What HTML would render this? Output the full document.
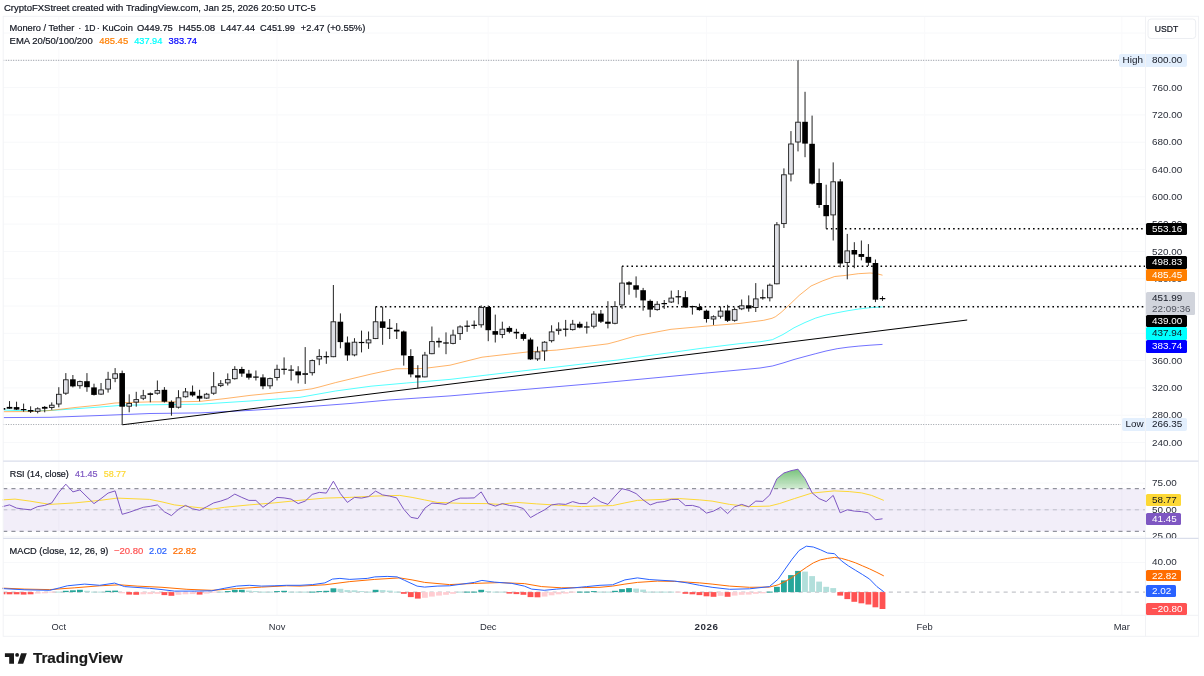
<!DOCTYPE html><html><head><meta charset="utf-8"><title>XMRUSDT chart</title><style>
html,body{margin:0;padding:0;background:#fff}
body{width:1204px;height:676px;position:relative;overflow:hidden;font-family:"Liberation Sans",sans-serif;color:#131722}
svg{position:absolute;left:0;top:0}
.t{position:absolute;white-space:pre;line-height:12px;height:12px;-webkit-text-stroke:0.2px currentColor}
.ax{position:absolute;left:1152px;font-size:9.9px;line-height:12px;height:12px;color:#2a2e39;white-space:pre}
.lb{position:absolute;left:1146px;font-size:9.9px;line-height:12.4px;height:12.4px;padding-left:6px;box-sizing:border-box;border-radius:1.5px;white-space:pre;color:#fff}

</style></head><body>
<svg width="1204" height="676" viewBox="0 0 1204 676">
<line x1="3.2" x2="1145.5" y1="442.5" y2="442.5" stroke="#f7f8fa" stroke-width="1"/>
<line x1="3.2" x2="1145.5" y1="415.2" y2="415.2" stroke="#f7f8fa" stroke-width="1"/>
<line x1="3.2" x2="1145.5" y1="387.9" y2="387.9" stroke="#f7f8fa" stroke-width="1"/>
<line x1="3.2" x2="1145.5" y1="360.6" y2="360.6" stroke="#f7f8fa" stroke-width="1"/>
<line x1="3.2" x2="1145.5" y1="333.3" y2="333.3" stroke="#f7f8fa" stroke-width="1"/>
<line x1="3.2" x2="1145.5" y1="306.0" y2="306.0" stroke="#f7f8fa" stroke-width="1"/>
<line x1="3.2" x2="1145.5" y1="278.7" y2="278.7" stroke="#f7f8fa" stroke-width="1"/>
<line x1="3.2" x2="1145.5" y1="251.4" y2="251.4" stroke="#f7f8fa" stroke-width="1"/>
<line x1="3.2" x2="1145.5" y1="224.1" y2="224.1" stroke="#f7f8fa" stroke-width="1"/>
<line x1="3.2" x2="1145.5" y1="196.8" y2="196.8" stroke="#f7f8fa" stroke-width="1"/>
<line x1="3.2" x2="1145.5" y1="169.5" y2="169.5" stroke="#f7f8fa" stroke-width="1"/>
<line x1="3.2" x2="1145.5" y1="142.2" y2="142.2" stroke="#f7f8fa" stroke-width="1"/>
<line x1="3.2" x2="1145.5" y1="114.9" y2="114.9" stroke="#f7f8fa" stroke-width="1"/>
<line x1="3.2" x2="1145.5" y1="87.6" y2="87.6" stroke="#f7f8fa" stroke-width="1"/>
<line x1="3.2" x2="1145.5" y1="60.3" y2="60.3" stroke="#f7f8fa" stroke-width="1"/>
<line x1="3.2" x2="1145.5" y1="33.0" y2="33.0" stroke="#f7f8fa" stroke-width="1"/>
<line x1="3.2" x2="1145.5" y1="483.0" y2="483.0" stroke="#f7f8fa" stroke-width="1"/>
<line x1="3.2" x2="1145.5" y1="509.8" y2="509.8" stroke="#f7f8fa" stroke-width="1"/>
<line x1="3.2" x2="1145.5" y1="536.3" y2="536.3" stroke="#f7f8fa" stroke-width="1"/>
<line x1="3.2" x2="1145.5" y1="562.4" y2="562.4" stroke="#f7f8fa" stroke-width="1"/>
<line x1="58.8" x2="58.8" y1="16.3" y2="615.3" stroke="#f9f9fb" stroke-width="1"/>
<line x1="277.0" x2="277.0" y1="16.3" y2="615.3" stroke="#f9f9fb" stroke-width="1"/>
<line x1="488.2" x2="488.2" y1="16.3" y2="615.3" stroke="#f9f9fb" stroke-width="1"/>
<line x1="706.5" x2="706.5" y1="16.3" y2="615.3" stroke="#f9f9fb" stroke-width="1"/>
<line x1="924.7" x2="924.7" y1="16.3" y2="615.3" stroke="#f9f9fb" stroke-width="1"/>
<line x1="1121.8" x2="1121.8" y1="16.3" y2="615.3" stroke="#f9f9fb" stroke-width="1"/>
<rect x="3.2" y="488.7" width="1142.3" height="42.6" fill="#7e57c2" fill-opacity="0.1"/>
<line x1="3.2" x2="1145.5" y1="488.7" y2="488.7" stroke="#787b86" stroke-width="1" stroke-dasharray="4.1 4.1"/>
<line x1="3.2" x2="1145.5" y1="509.8" y2="509.8" stroke="#787b86" stroke-opacity="0.4" stroke-width="1" stroke-dasharray="4.1 4.1"/>
<line x1="3.2" x2="1145.5" y1="531.3" y2="531.3" stroke="#787b86" stroke-width="1" stroke-dasharray="4.1 4.1"/>
<defs><linearGradient id="ob" x1="0" y1="0" x2="0" y2="1"><stop offset="0" stop-color="#4caf50" stop-opacity="0.75"/><stop offset="1" stop-color="#4caf50" stop-opacity="0"/></linearGradient><clipPath id="obc"><rect x="0" y="462" width="1204" height="26.7"/></clipPath><clipPath id="main"><rect x="3.2" y="16.3" width="1142.3" height="445"/></clipPath></defs>
<path d="M769.8 494.9 L776.9 478.7 L783.9 473.0 L791.0 470.7 L798.0 469.2 L805.0 478.7 L812.1 492.9 L819.1 498.6 L819.1 488.7 L769.8 488.7 Z" fill="url(#ob)" clip-path="url(#obc)"/>
<path d="M2.5 499.9 L15.0 499.1 L29.9 501.1 L49.8 504.4 L74.8 502.9 L99.7 500.4 L117.1 498.1 L149.5 499.4 L162.0 501.9 L174.4 504.9 L189.4 506.6 L211.8 509.1 L224.3 507.3 L249.2 504.9 L274.1 502.9 L299.0 500.4 L324.9 498.1 L349.8 497.4 L374.8 496.1 L399.7 495.4 L412.1 497.4 L424.6 499.9 L437.1 502.4 L462.0 503.4 L486.9 503.6 L499.4 504.4 L516.8 502.4 L536.7 503.9 L561.6 505.4 L581.6 506.6 L600.0 505.9 L612.5 505.6 L624.9 502.9 L637.4 500.4 L662.3 499.4 L679.7 498.6 L699.7 499.9 L712.1 501.1 L729.6 504.4 L749.5 506.6 L769.4 506.1 L779.4 503.6 L794.4 498.6 L811.8 493.1 L834.2 490.9 L849.2 491.6 L861.6 492.9 L871.6 495.4 L883.8 500.4" fill="none" stroke="#fdd835" stroke-width="1" stroke-linejoin="round"/>
<path d="M2.5 506.6 L9.5 504.9 L16.6 508.1 L23.6 509.1 L30.6 509.8 L37.7 506.6 L44.7 505.4 L51.8 502.9 L58.8 492.4 L65.8 484.2 L72.9 491.9 L79.9 489.9 L87.0 496.9 L94.0 503.6 L101.0 498.6 L108.1 493.1 L115.1 490.9 L122.2 514.3 L129.2 512.3 L136.2 509.8 L143.3 507.3 L150.3 506.3 L157.4 504.9 L164.4 511.8 L171.4 515.6 L178.5 509.3 L185.5 505.4 L192.6 508.8 L199.6 510.3 L206.6 506.8 L213.7 502.9 L220.7 501.1 L227.8 498.6 L234.8 494.1 L241.8 497.4 L248.9 500.4 L255.9 500.4 L263.0 507.3 L270.0 502.4 L277.0 497.4 L284.1 497.9 L291.1 499.1 L298.2 503.6 L305.2 501.1 L312.2 494.4 L319.3 492.4 L326.3 493.1 L333.4 481.2 L340.4 493.6 L347.4 502.4 L354.5 497.4 L361.5 498.1 L368.6 496.6 L375.6 491.1 L382.6 494.9 L389.7 496.1 L396.7 497.9 L403.8 509.3 L410.8 517.3 L417.8 518.6 L424.9 508.1 L431.9 503.1 L439.0 503.6 L446.0 504.4 L453.0 500.6 L460.1 498.1 L467.1 498.1 L474.2 497.9 L481.2 491.9 L488.2 503.6 L495.3 506.1 L502.3 503.6 L509.4 505.4 L516.4 506.3 L523.4 508.6 L530.5 517.6 L537.5 513.6 L544.6 509.8 L551.6 504.9 L558.6 503.9 L565.7 504.4 L572.7 501.6 L579.8 503.6 L586.8 503.6 L593.8 497.4 L600.9 501.9 L607.9 504.4 L615.0 496.1 L622.0 488.7 L629.0 490.4 L636.1 493.6 L643.1 499.9 L650.2 504.9 L657.2 502.4 L664.2 501.6 L671.3 499.4 L678.3 499.4 L685.4 505.6 L692.4 505.4 L699.4 507.3 L706.5 513.1 L713.5 511.1 L720.6 507.3 L727.6 513.6 L734.6 506.8 L741.7 504.4 L748.7 506.8 L755.8 501.1 L762.8 501.4 L769.8 494.9 L776.9 478.7 L783.9 473.0 L791.0 470.7 L798.0 469.2 L805.0 478.7 L812.1 492.9 L819.1 498.6 L826.2 501.6 L833.2 495.4 L840.2 512.8 L847.3 509.8 L854.3 511.1 L861.4 511.6 L868.4 512.8 L875.4 519.8 L882.5 518.8" fill="none" stroke="#7e57c2" stroke-width="1" stroke-linejoin="round"/>
<line x1="3.2" x2="1145.5" y1="592.1" y2="592.1" stroke="#787b86" stroke-opacity="0.55" stroke-width="1" stroke-dasharray="4.1 4.1"/>
<rect x="3.2" y="592.1" width="2.2" height="2.2" fill="#ff5252"/>
<rect x="6.6" y="592.1" width="5.8" height="2.2" fill="#ff5252"/>
<rect x="13.7" y="592.1" width="5.8" height="2.2" fill="#ff5252"/>
<rect x="20.7" y="592.1" width="5.8" height="2.5" fill="#ff5252"/>
<rect x="27.7" y="592.1" width="5.8" height="2.2" fill="#ff5252"/>
<rect x="34.8" y="592.1" width="5.8" height="1.5" fill="#ffcdd2"/>
<rect x="41.8" y="592.1" width="5.8" height="1.2" fill="#ffcdd2"/>
<rect x="48.9" y="591.6" width="5.8" height="1.0" fill="#ffcdd2"/>
<rect x="55.9" y="591.6" width="5.8" height="1.0" fill="#b2dfdb"/>
<rect x="62.9" y="590.8" width="5.8" height="1.3" fill="#26a69a"/>
<rect x="70.0" y="590.3" width="5.8" height="1.8" fill="#26a69a"/>
<rect x="77.0" y="589.8" width="5.8" height="2.3" fill="#26a69a"/>
<rect x="84.1" y="590.8" width="5.8" height="1.3" fill="#b2dfdb"/>
<rect x="91.1" y="591.6" width="5.8" height="1.0" fill="#b2dfdb"/>
<rect x="98.1" y="591.6" width="5.8" height="1.0" fill="#b2dfdb"/>
<rect x="105.2" y="590.8" width="5.8" height="1.3" fill="#26a69a"/>
<rect x="112.2" y="590.6" width="5.8" height="1.5" fill="#26a69a"/>
<rect x="119.3" y="592.1" width="5.8" height="1.2" fill="#ffcdd2"/>
<rect x="126.3" y="592.1" width="5.8" height="2.5" fill="#ff5252"/>
<rect x="133.3" y="592.1" width="5.8" height="2.7" fill="#ff5252"/>
<rect x="140.4" y="592.1" width="5.8" height="2.2" fill="#ffcdd2"/>
<rect x="147.4" y="592.1" width="5.8" height="2.0" fill="#ffcdd2"/>
<rect x="154.5" y="592.1" width="5.8" height="1.7" fill="#ffcdd2"/>
<rect x="161.5" y="592.1" width="5.8" height="3.0" fill="#ff5252"/>
<rect x="168.5" y="592.1" width="5.8" height="3.7" fill="#ff5252"/>
<rect x="175.6" y="592.1" width="5.8" height="2.7" fill="#ffcdd2"/>
<rect x="182.6" y="592.1" width="5.8" height="2.2" fill="#ffcdd2"/>
<rect x="189.7" y="592.1" width="5.8" height="2.0" fill="#ffcdd2"/>
<rect x="196.7" y="592.1" width="5.8" height="2.5" fill="#ff5252"/>
<rect x="203.7" y="592.1" width="5.8" height="1.5" fill="#ffcdd2"/>
<rect x="210.8" y="591.6" width="5.8" height="1.0" fill="#ffcdd2"/>
<rect x="217.8" y="591.6" width="5.8" height="1.0" fill="#b2dfdb"/>
<rect x="224.9" y="591.1" width="5.8" height="1.0" fill="#26a69a"/>
<rect x="231.9" y="589.8" width="5.8" height="2.3" fill="#26a69a"/>
<rect x="238.9" y="589.8" width="5.8" height="2.3" fill="#26a69a"/>
<rect x="246.0" y="590.6" width="5.8" height="1.5" fill="#b2dfdb"/>
<rect x="253.0" y="591.1" width="5.8" height="1.0" fill="#b2dfdb"/>
<rect x="260.1" y="591.6" width="5.8" height="1.0" fill="#b2dfdb"/>
<rect x="267.1" y="591.6" width="5.8" height="1.0" fill="#b2dfdb"/>
<rect x="274.1" y="591.1" width="5.8" height="1.0" fill="#26a69a"/>
<rect x="281.2" y="590.8" width="5.8" height="1.3" fill="#26a69a"/>
<rect x="288.2" y="591.6" width="5.8" height="1.0" fill="#b2dfdb"/>
<rect x="295.3" y="591.6" width="5.8" height="1.0" fill="#b2dfdb"/>
<rect x="302.3" y="591.6" width="5.8" height="1.0" fill="#b2dfdb"/>
<rect x="309.3" y="591.6" width="5.8" height="1.0" fill="#26a69a"/>
<rect x="316.4" y="591.1" width="5.8" height="1.0" fill="#26a69a"/>
<rect x="323.4" y="590.8" width="5.8" height="1.3" fill="#26a69a"/>
<rect x="330.5" y="588.3" width="5.8" height="3.8" fill="#26a69a"/>
<rect x="337.5" y="588.8" width="5.8" height="3.3" fill="#b2dfdb"/>
<rect x="344.5" y="590.1" width="5.8" height="2.0" fill="#b2dfdb"/>
<rect x="351.6" y="590.3" width="5.8" height="1.8" fill="#b2dfdb"/>
<rect x="358.6" y="591.1" width="5.8" height="1.0" fill="#b2dfdb"/>
<rect x="365.7" y="591.6" width="5.8" height="1.0" fill="#b2dfdb"/>
<rect x="372.7" y="589.8" width="5.8" height="2.3" fill="#26a69a"/>
<rect x="379.7" y="590.1" width="5.8" height="2.0" fill="#b2dfdb"/>
<rect x="386.8" y="590.6" width="5.8" height="1.5" fill="#b2dfdb"/>
<rect x="393.8" y="591.6" width="5.8" height="1.0" fill="#b2dfdb"/>
<rect x="400.9" y="592.1" width="5.8" height="1.7" fill="#ff5252"/>
<rect x="407.9" y="592.1" width="5.8" height="5.0" fill="#ff5252"/>
<rect x="414.9" y="592.1" width="5.8" height="6.5" fill="#ff5252"/>
<rect x="422.0" y="592.1" width="5.8" height="5.7" fill="#ffcdd2"/>
<rect x="429.0" y="592.1" width="5.8" height="4.5" fill="#ffcdd2"/>
<rect x="436.1" y="592.1" width="5.8" height="3.5" fill="#ffcdd2"/>
<rect x="443.1" y="592.1" width="5.8" height="2.7" fill="#ffcdd2"/>
<rect x="450.1" y="592.1" width="5.8" height="1.7" fill="#ffcdd2"/>
<rect x="457.2" y="591.6" width="5.8" height="1.0" fill="#b2dfdb"/>
<rect x="464.2" y="591.6" width="5.8" height="1.0" fill="#26a69a"/>
<rect x="471.3" y="591.6" width="5.8" height="1.0" fill="#26a69a"/>
<rect x="478.3" y="589.8" width="5.8" height="2.3" fill="#26a69a"/>
<rect x="485.3" y="591.1" width="5.8" height="1.0" fill="#b2dfdb"/>
<rect x="492.4" y="591.6" width="5.8" height="1.0" fill="#b2dfdb"/>
<rect x="499.4" y="591.6" width="5.8" height="1.0" fill="#b2dfdb"/>
<rect x="506.5" y="592.1" width="5.8" height="1.5" fill="#ff5252"/>
<rect x="513.5" y="592.1" width="5.8" height="2.0" fill="#ff5252"/>
<rect x="520.5" y="592.1" width="5.8" height="2.7" fill="#ff5252"/>
<rect x="527.6" y="592.1" width="5.8" height="5.0" fill="#ff5252"/>
<rect x="534.6" y="592.1" width="5.8" height="5.2" fill="#ff5252"/>
<rect x="541.7" y="592.1" width="5.8" height="4.5" fill="#ffcdd2"/>
<rect x="548.7" y="592.1" width="5.8" height="3.2" fill="#ffcdd2"/>
<rect x="555.7" y="592.1" width="5.8" height="2.2" fill="#ffcdd2"/>
<rect x="562.8" y="592.1" width="5.8" height="1.5" fill="#ffcdd2"/>
<rect x="569.8" y="591.6" width="5.8" height="1.0" fill="#ffcdd2"/>
<rect x="576.9" y="591.6" width="5.8" height="1.0" fill="#26a69a"/>
<rect x="583.9" y="591.6" width="5.8" height="1.0" fill="#26a69a"/>
<rect x="590.9" y="591.1" width="5.8" height="1.0" fill="#26a69a"/>
<rect x="598.0" y="591.6" width="5.8" height="1.0" fill="#b2dfdb"/>
<rect x="605.0" y="591.6" width="5.8" height="1.0" fill="#b2dfdb"/>
<rect x="612.1" y="590.8" width="5.8" height="1.3" fill="#26a69a"/>
<rect x="619.1" y="589.1" width="5.8" height="3.0" fill="#26a69a"/>
<rect x="626.1" y="588.1" width="5.8" height="4.0" fill="#26a69a"/>
<rect x="633.2" y="588.6" width="5.8" height="3.5" fill="#b2dfdb"/>
<rect x="640.2" y="589.6" width="5.8" height="2.5" fill="#b2dfdb"/>
<rect x="647.3" y="591.6" width="5.8" height="1.0" fill="#b2dfdb"/>
<rect x="654.3" y="591.6" width="5.8" height="1.0" fill="#b2dfdb"/>
<rect x="661.3" y="591.6" width="5.8" height="1.0" fill="#b2dfdb"/>
<rect x="668.4" y="591.6" width="5.8" height="1.0" fill="#b2dfdb"/>
<rect x="675.4" y="591.6" width="5.8" height="1.0" fill="#ffcdd2"/>
<rect x="682.5" y="592.1" width="5.8" height="1.7" fill="#ff5252"/>
<rect x="689.5" y="592.1" width="5.8" height="2.2" fill="#ff5252"/>
<rect x="696.5" y="592.1" width="5.8" height="3.0" fill="#ff5252"/>
<rect x="703.6" y="592.1" width="5.8" height="4.2" fill="#ff5252"/>
<rect x="710.6" y="592.1" width="5.8" height="4.7" fill="#ff5252"/>
<rect x="717.7" y="592.1" width="5.8" height="3.7" fill="#ffcdd2"/>
<rect x="724.7" y="592.1" width="5.8" height="4.7" fill="#ff5252"/>
<rect x="731.7" y="592.1" width="5.8" height="3.5" fill="#ffcdd2"/>
<rect x="738.8" y="592.1" width="5.8" height="2.7" fill="#ffcdd2"/>
<rect x="745.8" y="592.1" width="5.8" height="2.5" fill="#ffcdd2"/>
<rect x="752.9" y="592.1" width="5.8" height="1.7" fill="#ffcdd2"/>
<rect x="759.9" y="592.1" width="5.8" height="1.2" fill="#ffcdd2"/>
<rect x="766.9" y="591.6" width="5.8" height="1.0" fill="#26a69a"/>
<rect x="774.0" y="586.8" width="5.8" height="5.3" fill="#26a69a"/>
<rect x="781.0" y="580.4" width="5.8" height="11.7" fill="#26a69a"/>
<rect x="788.1" y="575.1" width="5.8" height="17.0" fill="#26a69a"/>
<rect x="795.1" y="570.9" width="5.8" height="21.2" fill="#26a69a"/>
<rect x="802.1" y="571.6" width="5.8" height="20.5" fill="#b2dfdb"/>
<rect x="809.2" y="576.1" width="5.8" height="16.0" fill="#b2dfdb"/>
<rect x="816.2" y="581.6" width="5.8" height="10.5" fill="#b2dfdb"/>
<rect x="823.3" y="586.8" width="5.8" height="5.3" fill="#b2dfdb"/>
<rect x="830.3" y="588.1" width="5.8" height="4.0" fill="#b2dfdb"/>
<rect x="837.3" y="592.1" width="5.8" height="3.5" fill="#ff5252"/>
<rect x="844.4" y="592.1" width="5.8" height="7.0" fill="#ff5252"/>
<rect x="851.4" y="592.1" width="5.8" height="9.7" fill="#ff5252"/>
<rect x="858.5" y="592.1" width="5.8" height="11.2" fill="#ff5252"/>
<rect x="865.5" y="592.1" width="5.8" height="12.4" fill="#ff5252"/>
<rect x="872.5" y="592.1" width="5.8" height="15.2" fill="#ff5252"/>
<rect x="879.6" y="592.1" width="5.8" height="16.9" fill="#ff5252"/>
<path d="M2.5 588.1 L24.9 589.1 L49.8 589.6 L74.8 587.8 L99.7 585.8 L119.6 584.8 L137.1 586.1 L162.0 587.3 L186.9 589.3 L211.8 590.3 L236.7 588.6 L261.6 587.1 L286.6 585.8 L300.0 586.1 L324.9 584.8 L349.8 581.6 L374.8 579.4 L399.7 577.9 L412.1 579.9 L424.6 582.4 L449.5 584.6 L474.4 583.4 L499.4 582.6 L524.3 583.6 L541.7 586.6 L561.6 587.8 L581.6 587.6 L600.0 587.3 L612.5 586.1 L624.9 584.1 L637.4 582.4 L657.3 581.1 L674.8 581.4 L699.7 582.9 L712.1 584.1 L729.6 586.1 L749.5 587.3 L769.4 587.1 L778.2 584.8 L785.1 581.6 L792.1 577.4 L799.1 572.4 L806.3 567.4 L813.3 562.9 L820.3 559.9 L827.5 558.4 L834.5 557.4 L841.5 558.4 L848.4 560.4 L855.7 562.9 L862.6 565.9 L869.6 568.9 L876.9 572.4 L883.8 575.9" fill="none" stroke="#ff6d00" stroke-width="1" stroke-linejoin="round"/>
<path d="M2.5 588.6 L24.9 589.8 L49.8 590.3 L59.8 587.8 L67.3 585.8 L84.7 584.1 L99.7 585.3 L114.6 583.1 L124.6 586.6 L149.5 588.3 L162.0 589.6 L174.4 591.1 L194.4 591.1 L211.8 590.8 L224.3 588.3 L236.7 586.1 L249.2 585.3 L261.6 586.1 L274.1 585.8 L286.6 585.3 L300.0 585.3 L312.5 584.6 L324.9 582.9 L332.4 579.1 L339.9 578.4 L349.8 579.4 L367.3 578.4 L374.8 576.9 L387.2 576.4 L397.2 576.9 L404.7 580.4 L417.1 586.1 L424.6 587.1 L437.1 586.1 L449.5 585.8 L462.0 584.1 L474.4 582.4 L481.9 580.4 L494.4 582.1 L511.8 583.4 L524.3 586.1 L531.7 589.1 L544.2 590.3 L556.7 589.1 L574.1 587.8 L586.6 586.6 L600.0 585.3 L612.5 584.8 L624.9 579.9 L637.4 577.9 L649.8 579.6 L674.8 581.1 L687.2 582.9 L699.7 585.3 L712.1 587.3 L729.6 589.3 L749.5 588.8 L769.4 586.6 L778.2 579.1 L785.1 569.1 L792.1 559.2 L799.1 550.5 L806.3 546.2 L813.3 547.0 L820.3 549.7 L827.5 553.0 L834.5 553.7 L841.5 560.9 L848.4 565.9 L855.7 570.4 L862.6 574.6 L869.6 579.1 L876.9 586.6 L883.8 591.8" fill="none" stroke="#2962ff" stroke-width="1" stroke-linejoin="round"/>
<g clip-path="url(#main)">
<line x1="3.2" x2="1119" y1="60.3" y2="60.3" stroke="#90949c" stroke-width="1" stroke-dasharray="1 1.5"/>
<line x1="3.2" x2="1121" y1="424.5" y2="424.5" stroke="#9da0a8" stroke-width="1" stroke-dasharray="1 1.5"/>
<path d="M3.5 417.6 L50.0 417.3 L100.0 415.5 L150.0 413.5 L200.0 412.9 L250.0 410.4 L300.0 407.3 L350.0 403.5 L388.8 400.0 L450.0 395.9 L500.0 391.6 L550.0 387.3 L600.0 383.0 L650.0 378.3 L700.0 373.6 L740.0 369.9 L760.0 368.0 L772.4 366.0 L783.0 363.0 L794.0 359.5 L805.0 356.5 L815.6 353.7 L826.0 351.0 L837.2 348.7 L848.0 347.2 L858.8 346.1 L870.0 345.2 L882.5 344.4" fill="none" stroke="#0000ff" stroke-opacity="0.7" stroke-width="0.8" stroke-linejoin="round"/>
<path d="M3.5 410.0 L30.0 411.0 L50.0 410.5 L75.0 408.8 L100.0 407.0 L122.0 405.3 L150.0 404.8 L200.0 404.2 L250.0 401.0 L300.0 397.3 L335.5 391.0 L371.0 386.2 L406.5 383.0 L450.0 379.4 L500.0 373.5 L550.0 367.8 L600.0 362.0 L617.8 360.0 L650.0 355.5 L700.0 348.5 L740.0 343.6 L760.0 341.8 L772.4 339.7 L783.0 334.5 L794.0 327.8 L805.0 322.5 L815.6 318.1 L826.0 315.0 L837.2 312.7 L848.0 310.7 L858.8 309.0 L870.0 307.7 L882.5 306.9" fill="none" stroke="#00ffff" stroke-opacity="0.85" stroke-width="0.8" stroke-linejoin="round"/>
<path d="M3.5 411.7 L30.0 411.6 L50.0 410.5 L75.0 407.5 L100.0 405.0 L115.0 403.0 L125.0 402.6 L150.0 401.9 L180.0 401.8 L200.0 401.4 L225.0 398.6 L250.0 395.4 L275.0 392.9 L300.0 390.4 L312.0 388.8 L320.0 386.8 L335.5 382.6 L371.0 374.1 L395.9 368.8 L406.5 368.7 L424.3 368.4 L450.0 365.2 L482.0 357.2 L528.0 351.9 L556.5 350.1 L600.0 344.8 L608.0 343.8 L617.8 341.2 L635.5 335.9 L671.0 329.3 L706.5 326.1 L740.0 323.4 L763.7 320.3 L772.0 318.3 L775.5 316.7 L781.0 312.5 L787.3 306.8 L799.2 295.4 L811.0 286.0 L822.8 280.8 L834.7 276.5 L846.5 275.3 L858.3 273.7 L870.2 273.0 L876.0 273.5 L882.5 275.2" fill="none" stroke="#ff7f00" stroke-opacity="0.75" stroke-width="0.8" stroke-linejoin="round"/>
<line x1="122.3" y1="424.8" x2="967.2" y2="320" stroke="#000" stroke-width="1"/>
<line x1="826.2" x2="1145.5" y1="228.7" y2="228.7" stroke="#000" stroke-width="1.6" stroke-dasharray="1.6 3.1"/>
<line x1="622.0" x2="1145.5" y1="266.3" y2="266.3" stroke="#000" stroke-width="1.6" stroke-dasharray="1.6 3.1"/>
<line x1="375.6" x2="1145.5" y1="306.8" y2="306.8" stroke="#000" stroke-width="1.6" stroke-dasharray="1.6 3.1"/>
<line x1="2.48" x2="2.48" y1="407.5" y2="410.0" stroke="#222" stroke-width="1"/>
<rect x="-0.32" y="408.0" width="5.6" height="1.7" fill="#000"/>
<line x1="9.52" x2="9.52" y1="401.1" y2="408.7" stroke="#222" stroke-width="1"/>
<rect x="6.72" y="406.9" width="5.6" height="1.8" fill="#000"/>
<line x1="16.56" x2="16.56" y1="401.7" y2="410.0" stroke="#222" stroke-width="1"/>
<rect x="13.76" y="407.1" width="5.6" height="2.5" fill="#000"/>
<line x1="23.60" x2="23.60" y1="403.6" y2="411.7" stroke="#222" stroke-width="1"/>
<rect x="20.80" y="409.0" width="5.6" height="1.2" fill="#000"/>
<line x1="30.64" x2="30.64" y1="406.3" y2="413.0" stroke="#222" stroke-width="1"/>
<rect x="27.84" y="410.0" width="5.6" height="1.6" fill="#000"/>
<line x1="37.68" x2="37.68" y1="407.3" y2="413.3" stroke="#222" stroke-width="1"/>
<rect x="35.33" y="408.8" width="4.7" height="2.5" fill="#dfe0e6" stroke="#1c1c1c" stroke-width="0.9"/>
<line x1="44.72" x2="44.72" y1="406.0" y2="412.3" stroke="#222" stroke-width="1"/>
<rect x="41.92" y="406.9" width="5.6" height="1.8" fill="#000"/>
<line x1="51.76" x2="51.76" y1="402.4" y2="409.8" stroke="#222" stroke-width="1"/>
<rect x="49.41" y="405.2" width="4.7" height="2.3" fill="#dfe0e6" stroke="#1c1c1c" stroke-width="0.9"/>
<line x1="58.80" x2="58.80" y1="387.2" y2="407.3" stroke="#222" stroke-width="1"/>
<rect x="56.45" y="394.3" width="4.7" height="9.7" fill="#dfe0e6" stroke="#1c1c1c" stroke-width="0.9"/>
<line x1="65.84" x2="65.84" y1="373.1" y2="394.9" stroke="#222" stroke-width="1"/>
<rect x="63.49" y="379.8" width="4.7" height="13.4" fill="#dfe0e6" stroke="#1c1c1c" stroke-width="0.9"/>
<line x1="72.88" x2="72.88" y1="375.0" y2="387.4" stroke="#222" stroke-width="1"/>
<rect x="70.08" y="379.3" width="5.6" height="7.1" fill="#000"/>
<line x1="79.92" x2="79.92" y1="380.6" y2="388.7" stroke="#222" stroke-width="1"/>
<rect x="77.57" y="381.6" width="4.7" height="4.1" fill="#dfe0e6" stroke="#1c1c1c" stroke-width="0.9"/>
<line x1="86.96" x2="86.96" y1="373.1" y2="391.8" stroke="#222" stroke-width="1"/>
<rect x="84.16" y="381.2" width="5.6" height="6.0" fill="#000"/>
<line x1="94.00" x2="94.00" y1="383.7" y2="395.5" stroke="#222" stroke-width="1"/>
<rect x="91.20" y="387.4" width="5.6" height="7.5" fill="#000"/>
<line x1="101.04" x2="101.04" y1="383.0" y2="394.9" stroke="#222" stroke-width="1"/>
<rect x="98.69" y="389.9" width="4.7" height="4.2" fill="#dfe0e6" stroke="#1c1c1c" stroke-width="0.9"/>
<line x1="108.08" x2="108.08" y1="371.8" y2="392.6" stroke="#222" stroke-width="1"/>
<rect x="105.73" y="379.3" width="4.7" height="9.7" fill="#dfe0e6" stroke="#1c1c1c" stroke-width="0.9"/>
<line x1="115.12" x2="115.12" y1="368.1" y2="382.2" stroke="#222" stroke-width="1"/>
<rect x="112.77" y="373.8" width="4.7" height="4.5" fill="#dfe0e6" stroke="#1c1c1c" stroke-width="0.9"/>
<line x1="122.16" x2="122.16" y1="370.6" y2="424.8" stroke="#222" stroke-width="1"/>
<rect x="119.36" y="373.1" width="5.6" height="33.6" fill="#000"/>
<line x1="129.20" x2="129.20" y1="394.3" y2="412.3" stroke="#222" stroke-width="1"/>
<rect x="126.85" y="403.4" width="4.7" height="2.8" fill="#dfe0e6" stroke="#1c1c1c" stroke-width="0.9"/>
<line x1="136.24" x2="136.24" y1="391.8" y2="406.7" stroke="#222" stroke-width="1"/>
<rect x="133.89" y="399.6" width="4.7" height="2.5" fill="#dfe0e6" stroke="#1c1c1c" stroke-width="0.9"/>
<line x1="143.28" x2="143.28" y1="389.9" y2="400.1" stroke="#222" stroke-width="1"/>
<rect x="140.93" y="395.8" width="4.7" height="2.4" fill="#dfe0e6" stroke="#1c1c1c" stroke-width="0.9"/>
<line x1="150.32" x2="150.32" y1="392.5" y2="402.3" stroke="#222" stroke-width="1"/>
<rect x="147.52" y="393.3" width="5.6" height="1.6" fill="#000"/>
<line x1="157.36" x2="157.36" y1="380.5" y2="394.6" stroke="#222" stroke-width="1"/>
<rect x="155.01" y="390.6" width="4.7" height="2.6" fill="#dfe0e6" stroke="#1c1c1c" stroke-width="0.9"/>
<line x1="164.40" x2="164.40" y1="387.1" y2="402.5" stroke="#222" stroke-width="1"/>
<rect x="161.60" y="389.8" width="5.6" height="11.9" fill="#000"/>
<line x1="171.44" x2="171.44" y1="400.4" y2="415.7" stroke="#222" stroke-width="1"/>
<rect x="168.64" y="401.9" width="5.6" height="6.0" fill="#000"/>
<line x1="178.48" x2="178.48" y1="390.2" y2="408.5" stroke="#222" stroke-width="1"/>
<rect x="176.13" y="397.8" width="4.7" height="9.4" fill="#dfe0e6" stroke="#1c1c1c" stroke-width="0.9"/>
<line x1="185.52" x2="185.52" y1="388.0" y2="397.6" stroke="#222" stroke-width="1"/>
<rect x="183.17" y="391.9" width="4.7" height="4.9" fill="#dfe0e6" stroke="#1c1c1c" stroke-width="0.9"/>
<line x1="192.56" x2="192.56" y1="385.5" y2="396.7" stroke="#222" stroke-width="1"/>
<rect x="189.76" y="391.7" width="5.6" height="3.7" fill="#000"/>
<line x1="199.60" x2="199.60" y1="389.8" y2="401.3" stroke="#222" stroke-width="1"/>
<rect x="196.80" y="395.8" width="5.6" height="2.8" fill="#000"/>
<line x1="206.64" x2="206.64" y1="392.9" y2="398.8" stroke="#222" stroke-width="1"/>
<rect x="204.29" y="394.2" width="4.7" height="3.9" fill="#dfe0e6" stroke="#1c1c1c" stroke-width="0.9"/>
<line x1="213.68" x2="213.68" y1="372.1" y2="394.8" stroke="#222" stroke-width="1"/>
<rect x="211.33" y="386.8" width="4.7" height="6.4" fill="#dfe0e6" stroke="#1c1c1c" stroke-width="0.9"/>
<line x1="220.72" x2="220.72" y1="380.1" y2="387.1" stroke="#222" stroke-width="1"/>
<rect x="218.37" y="383.8" width="4.7" height="1.8" fill="#dfe0e6" stroke="#1c1c1c" stroke-width="0.9"/>
<line x1="227.76" x2="227.76" y1="373.4" y2="385.5" stroke="#222" stroke-width="1"/>
<rect x="225.41" y="379.6" width="4.7" height="3.3" fill="#dfe0e6" stroke="#1c1c1c" stroke-width="0.9"/>
<line x1="234.80" x2="234.80" y1="366.2" y2="379.6" stroke="#222" stroke-width="1"/>
<rect x="232.45" y="369.4" width="4.7" height="9.3" fill="#dfe0e6" stroke="#1c1c1c" stroke-width="0.9"/>
<line x1="241.84" x2="241.84" y1="366.8" y2="376.8" stroke="#222" stroke-width="1"/>
<rect x="239.04" y="369.0" width="5.6" height="4.6" fill="#000"/>
<line x1="248.88" x2="248.88" y1="369.9" y2="379.6" stroke="#222" stroke-width="1"/>
<rect x="246.08" y="373.6" width="5.6" height="4.1" fill="#000"/>
<line x1="255.92" x2="255.92" y1="370.5" y2="380.5" stroke="#222" stroke-width="1"/>
<rect x="253.12" y="376.5" width="5.6" height="1.2" fill="#000"/>
<line x1="262.96" x2="262.96" y1="374.3" y2="389.2" stroke="#222" stroke-width="1"/>
<rect x="260.16" y="377.4" width="5.6" height="8.9" fill="#000"/>
<line x1="270.00" x2="270.00" y1="377.6" y2="388.8" stroke="#222" stroke-width="1"/>
<rect x="267.65" y="378.6" width="4.7" height="7.2" fill="#dfe0e6" stroke="#1c1c1c" stroke-width="0.9"/>
<line x1="277.04" x2="277.04" y1="364.7" y2="380.5" stroke="#222" stroke-width="1"/>
<rect x="274.69" y="369.3" width="4.7" height="8.2" fill="#dfe0e6" stroke="#1c1c1c" stroke-width="0.9"/>
<line x1="284.08" x2="284.08" y1="357.4" y2="374.6" stroke="#222" stroke-width="1"/>
<rect x="281.28" y="368.7" width="5.6" height="1.2" fill="#000"/>
<line x1="291.12" x2="291.12" y1="365.2" y2="380.5" stroke="#222" stroke-width="1"/>
<rect x="288.32" y="369.5" width="5.6" height="1.2" fill="#000"/>
<line x1="298.16" x2="298.16" y1="366.2" y2="383.4" stroke="#222" stroke-width="1"/>
<rect x="295.36" y="371.4" width="5.6" height="3.9" fill="#000"/>
<line x1="305.20" x2="305.20" y1="347.1" y2="383.9" stroke="#222" stroke-width="1"/>
<rect x="302.85" y="373.6" width="4.7" height="0.9" fill="#dfe0e6" stroke="#1c1c1c" stroke-width="0.9"/>
<line x1="312.24" x2="312.24" y1="359.5" y2="375.5" stroke="#222" stroke-width="1"/>
<rect x="309.89" y="360.6" width="4.7" height="12.1" fill="#dfe0e6" stroke="#1c1c1c" stroke-width="0.9"/>
<line x1="319.28" x2="319.28" y1="349.2" y2="365.2" stroke="#222" stroke-width="1"/>
<rect x="316.93" y="356.4" width="4.7" height="2.6" fill="#dfe0e6" stroke="#1c1c1c" stroke-width="0.9"/>
<line x1="326.32" x2="326.32" y1="351.5" y2="363.8" stroke="#222" stroke-width="1"/>
<rect x="323.52" y="356.1" width="5.6" height="1.2" fill="#000"/>
<line x1="333.36" x2="333.36" y1="285.0" y2="357.2" stroke="#222" stroke-width="1"/>
<rect x="331.01" y="321.8" width="4.7" height="34.9" fill="#dfe0e6" stroke="#1c1c1c" stroke-width="0.9"/>
<line x1="340.40" x2="340.40" y1="313.4" y2="348.3" stroke="#222" stroke-width="1"/>
<rect x="337.60" y="321.7" width="5.6" height="20.4" fill="#000"/>
<line x1="347.44" x2="347.44" y1="336.5" y2="360.8" stroke="#222" stroke-width="1"/>
<rect x="344.64" y="342.5" width="5.6" height="12.9" fill="#000"/>
<line x1="354.48" x2="354.48" y1="338.2" y2="356.3" stroke="#222" stroke-width="1"/>
<rect x="352.13" y="342.2" width="4.7" height="12.7" fill="#dfe0e6" stroke="#1c1c1c" stroke-width="0.9"/>
<line x1="361.52" x2="361.52" y1="330.6" y2="352.4" stroke="#222" stroke-width="1"/>
<rect x="358.72" y="341.9" width="5.6" height="1.2" fill="#000"/>
<line x1="368.56" x2="368.56" y1="331.5" y2="348.9" stroke="#222" stroke-width="1"/>
<rect x="366.21" y="339.9" width="4.7" height="3.0" fill="#dfe0e6" stroke="#1c1c1c" stroke-width="0.9"/>
<line x1="375.60" x2="375.60" y1="306.6" y2="339.1" stroke="#222" stroke-width="1"/>
<rect x="373.25" y="321.8" width="4.7" height="16.8" fill="#dfe0e6" stroke="#1c1c1c" stroke-width="0.9"/>
<line x1="382.64" x2="382.64" y1="306.6" y2="344.8" stroke="#222" stroke-width="1"/>
<rect x="379.84" y="321.4" width="5.6" height="6.5" fill="#000"/>
<line x1="389.68" x2="389.68" y1="319.0" y2="339.0" stroke="#222" stroke-width="1"/>
<rect x="386.88" y="327.7" width="5.6" height="1.2" fill="#000"/>
<line x1="396.72" x2="396.72" y1="323.1" y2="339.0" stroke="#222" stroke-width="1"/>
<rect x="393.92" y="329.7" width="5.6" height="1.8" fill="#000"/>
<line x1="403.76" x2="403.76" y1="330.6" y2="365.6" stroke="#222" stroke-width="1"/>
<rect x="400.96" y="331.5" width="5.6" height="23.9" fill="#000"/>
<line x1="410.80" x2="410.80" y1="349.2" y2="377.3" stroke="#222" stroke-width="1"/>
<rect x="408.00" y="356.0" width="5.6" height="18.4" fill="#000"/>
<line x1="417.84" x2="417.84" y1="365.2" y2="388.3" stroke="#222" stroke-width="1"/>
<rect x="415.04" y="375.3" width="5.6" height="2.3" fill="#000"/>
<line x1="424.88" x2="424.88" y1="351.9" y2="377.3" stroke="#222" stroke-width="1"/>
<rect x="422.53" y="355.1" width="4.7" height="21.8" fill="#dfe0e6" stroke="#1c1c1c" stroke-width="0.9"/>
<line x1="431.92" x2="431.92" y1="326.5" y2="354.2" stroke="#222" stroke-width="1"/>
<rect x="429.57" y="341.6" width="4.7" height="12.1" fill="#dfe0e6" stroke="#1c1c1c" stroke-width="0.9"/>
<line x1="438.96" x2="438.96" y1="337.7" y2="347.5" stroke="#222" stroke-width="1"/>
<rect x="436.16" y="340.9" width="5.6" height="1.6" fill="#000"/>
<line x1="446.00" x2="446.00" y1="332.4" y2="354.2" stroke="#222" stroke-width="1"/>
<rect x="443.20" y="342.4" width="5.6" height="1.2" fill="#000"/>
<line x1="453.04" x2="453.04" y1="329.7" y2="344.3" stroke="#222" stroke-width="1"/>
<rect x="450.69" y="335.1" width="4.7" height="8.3" fill="#dfe0e6" stroke="#1c1c1c" stroke-width="0.9"/>
<line x1="460.08" x2="460.08" y1="325.3" y2="340.0" stroke="#222" stroke-width="1"/>
<rect x="457.73" y="326.9" width="4.7" height="6.7" fill="#dfe0e6" stroke="#1c1c1c" stroke-width="0.9"/>
<line x1="467.12" x2="467.12" y1="320.5" y2="331.8" stroke="#222" stroke-width="1"/>
<rect x="464.32" y="325.6" width="5.6" height="1.2" fill="#000"/>
<line x1="474.16" x2="474.16" y1="320.5" y2="328.8" stroke="#222" stroke-width="1"/>
<rect x="471.36" y="324.7" width="5.6" height="1.2" fill="#000"/>
<line x1="481.20" x2="481.20" y1="305.4" y2="327.6" stroke="#222" stroke-width="1"/>
<rect x="478.85" y="307.4" width="4.7" height="17.4" fill="#dfe0e6" stroke="#1c1c1c" stroke-width="0.9"/>
<line x1="488.24" x2="488.24" y1="305.4" y2="341.2" stroke="#222" stroke-width="1"/>
<rect x="485.44" y="307.0" width="5.6" height="23.2" fill="#000"/>
<line x1="495.28" x2="495.28" y1="314.6" y2="342.5" stroke="#222" stroke-width="1"/>
<rect x="492.48" y="331.1" width="5.6" height="3.6" fill="#000"/>
<line x1="502.32" x2="502.32" y1="321.7" y2="338.2" stroke="#222" stroke-width="1"/>
<rect x="499.97" y="329.2" width="4.7" height="5.3" fill="#dfe0e6" stroke="#1c1c1c" stroke-width="0.9"/>
<line x1="509.36" x2="509.36" y1="326.2" y2="333.3" stroke="#222" stroke-width="1"/>
<rect x="506.56" y="327.9" width="5.6" height="3.9" fill="#000"/>
<line x1="516.40" x2="516.40" y1="328.8" y2="338.9" stroke="#222" stroke-width="1"/>
<rect x="513.60" y="331.8" width="5.6" height="1.6" fill="#000"/>
<line x1="523.44" x2="523.44" y1="332.4" y2="340.7" stroke="#222" stroke-width="1"/>
<rect x="520.64" y="334.1" width="5.6" height="4.8" fill="#000"/>
<line x1="530.48" x2="530.48" y1="337.7" y2="359.9" stroke="#222" stroke-width="1"/>
<rect x="527.68" y="339.5" width="5.6" height="19.9" fill="#000"/>
<line x1="537.52" x2="537.52" y1="346.6" y2="360.8" stroke="#222" stroke-width="1"/>
<rect x="535.17" y="351.9" width="4.7" height="7.0" fill="#dfe0e6" stroke="#1c1c1c" stroke-width="0.9"/>
<line x1="544.56" x2="544.56" y1="341.2" y2="360.8" stroke="#222" stroke-width="1"/>
<rect x="542.21" y="342.2" width="4.7" height="8.7" fill="#dfe0e6" stroke="#1c1c1c" stroke-width="0.9"/>
<line x1="551.60" x2="551.60" y1="325.3" y2="342.5" stroke="#222" stroke-width="1"/>
<rect x="549.25" y="331.9" width="4.7" height="8.8" fill="#dfe0e6" stroke="#1c1c1c" stroke-width="0.9"/>
<line x1="558.64" x2="558.64" y1="322.3" y2="334.7" stroke="#222" stroke-width="1"/>
<rect x="556.29" y="329.2" width="4.7" height="1.4" fill="#dfe0e6" stroke="#1c1c1c" stroke-width="0.9"/>
<line x1="565.68" x2="565.68" y1="319.9" y2="336.5" stroke="#222" stroke-width="1"/>
<rect x="562.88" y="328.6" width="5.6" height="1.2" fill="#000"/>
<line x1="572.72" x2="572.72" y1="319.9" y2="330.6" stroke="#222" stroke-width="1"/>
<rect x="570.37" y="324.2" width="4.7" height="5.4" fill="#dfe0e6" stroke="#1c1c1c" stroke-width="0.9"/>
<line x1="579.76" x2="579.76" y1="321.7" y2="328.3" stroke="#222" stroke-width="1"/>
<rect x="576.96" y="323.8" width="5.6" height="3.8" fill="#000"/>
<line x1="586.80" x2="586.80" y1="321.7" y2="333.6" stroke="#222" stroke-width="1"/>
<rect x="584.00" y="326.4" width="5.6" height="1.2" fill="#000"/>
<line x1="593.84" x2="593.84" y1="311.1" y2="328.3" stroke="#222" stroke-width="1"/>
<rect x="591.49" y="314.1" width="4.7" height="12.1" fill="#dfe0e6" stroke="#1c1c1c" stroke-width="0.9"/>
<line x1="600.88" x2="600.88" y1="310.0" y2="323.0" stroke="#222" stroke-width="1"/>
<rect x="598.08" y="313.6" width="5.6" height="8.1" fill="#000"/>
<line x1="607.92" x2="607.92" y1="301.2" y2="328.4" stroke="#222" stroke-width="1"/>
<rect x="605.12" y="321.7" width="5.6" height="2.1" fill="#000"/>
<line x1="614.96" x2="614.96" y1="301.2" y2="324.3" stroke="#222" stroke-width="1"/>
<rect x="612.61" y="306.6" width="4.7" height="16.7" fill="#dfe0e6" stroke="#1c1c1c" stroke-width="0.9"/>
<line x1="622.00" x2="622.00" y1="266.3" y2="308.9" stroke="#222" stroke-width="1"/>
<rect x="619.65" y="283.1" width="4.7" height="21.8" fill="#dfe0e6" stroke="#1c1c1c" stroke-width="0.9"/>
<line x1="629.04" x2="629.04" y1="281.2" y2="294.7" stroke="#222" stroke-width="1"/>
<rect x="626.24" y="282.3" width="5.6" height="2.4" fill="#000"/>
<line x1="636.08" x2="636.08" y1="276.4" y2="297.7" stroke="#222" stroke-width="1"/>
<rect x="633.28" y="285.3" width="5.6" height="4.4" fill="#000"/>
<line x1="643.12" x2="643.12" y1="287.9" y2="310.7" stroke="#222" stroke-width="1"/>
<rect x="640.32" y="290.2" width="5.6" height="10.2" fill="#000"/>
<line x1="650.16" x2="650.16" y1="299.5" y2="317.2" stroke="#222" stroke-width="1"/>
<rect x="647.36" y="300.9" width="5.6" height="8.7" fill="#000"/>
<line x1="657.20" x2="657.20" y1="301.2" y2="310.7" stroke="#222" stroke-width="1"/>
<rect x="654.85" y="304.3" width="4.7" height="5.3" fill="#dfe0e6" stroke="#1c1c1c" stroke-width="0.9"/>
<line x1="664.24" x2="664.24" y1="300.0" y2="308.9" stroke="#222" stroke-width="1"/>
<rect x="661.44" y="303.0" width="5.6" height="1.2" fill="#000"/>
<line x1="671.28" x2="671.28" y1="290.6" y2="303.0" stroke="#222" stroke-width="1"/>
<rect x="668.93" y="298.1" width="4.7" height="3.9" fill="#dfe0e6" stroke="#1c1c1c" stroke-width="0.9"/>
<line x1="678.32" x2="678.32" y1="290.1" y2="304.3" stroke="#222" stroke-width="1"/>
<rect x="675.52" y="296.2" width="5.6" height="1.2" fill="#000"/>
<line x1="685.36" x2="685.36" y1="291.1" y2="307.8" stroke="#222" stroke-width="1"/>
<rect x="682.56" y="297.2" width="5.6" height="10.3" fill="#000"/>
<line x1="692.40" x2="692.40" y1="305.7" y2="314.6" stroke="#222" stroke-width="1"/>
<rect x="689.60" y="306.0" width="5.6" height="1.2" fill="#000"/>
<line x1="699.44" x2="699.44" y1="303.6" y2="310.7" stroke="#222" stroke-width="1"/>
<rect x="696.64" y="306.9" width="5.6" height="3.2" fill="#000"/>
<line x1="706.48" x2="706.48" y1="309.6" y2="322.6" stroke="#222" stroke-width="1"/>
<rect x="703.68" y="310.7" width="5.6" height="8.3" fill="#000"/>
<line x1="713.52" x2="713.52" y1="315.4" y2="324.9" stroke="#222" stroke-width="1"/>
<rect x="711.17" y="316.8" width="4.7" height="2.2" fill="#dfe0e6" stroke="#1c1c1c" stroke-width="0.9"/>
<line x1="720.56" x2="720.56" y1="306.6" y2="318.5" stroke="#222" stroke-width="1"/>
<rect x="718.21" y="311.1" width="4.7" height="5.1" fill="#dfe0e6" stroke="#1c1c1c" stroke-width="0.9"/>
<line x1="727.60" x2="727.60" y1="304.8" y2="322.0" stroke="#222" stroke-width="1"/>
<rect x="724.80" y="310.5" width="5.6" height="10.3" fill="#000"/>
<line x1="734.64" x2="734.64" y1="307.5" y2="321.7" stroke="#222" stroke-width="1"/>
<rect x="732.29" y="309.6" width="4.7" height="10.7" fill="#dfe0e6" stroke="#1c1c1c" stroke-width="0.9"/>
<line x1="741.68" x2="741.68" y1="299.5" y2="310.1" stroke="#222" stroke-width="1"/>
<rect x="739.33" y="305.8" width="4.7" height="3.0" fill="#dfe0e6" stroke="#1c1c1c" stroke-width="0.9"/>
<line x1="748.72" x2="748.72" y1="295.4" y2="311.7" stroke="#222" stroke-width="1"/>
<rect x="745.92" y="305.3" width="5.6" height="3.2" fill="#000"/>
<line x1="755.76" x2="755.76" y1="283.1" y2="312.0" stroke="#222" stroke-width="1"/>
<rect x="753.41" y="298.9" width="4.7" height="8.6" fill="#dfe0e6" stroke="#1c1c1c" stroke-width="0.9"/>
<line x1="762.80" x2="762.80" y1="289.5" y2="299.7" stroke="#222" stroke-width="1"/>
<rect x="760.00" y="297.2" width="5.6" height="1.2" fill="#000"/>
<line x1="769.84" x2="769.84" y1="283.6" y2="301.4" stroke="#222" stroke-width="1"/>
<rect x="767.49" y="285.2" width="4.7" height="12.6" fill="#dfe0e6" stroke="#1c1c1c" stroke-width="0.9"/>
<line x1="776.88" x2="776.88" y1="222.1" y2="284.3" stroke="#222" stroke-width="1"/>
<rect x="774.53" y="224.8" width="4.7" height="59.0" fill="#dfe0e6" stroke="#1c1c1c" stroke-width="0.9"/>
<line x1="783.92" x2="783.92" y1="168.4" y2="228.0" stroke="#222" stroke-width="1"/>
<rect x="781.57" y="174.8" width="4.7" height="48.8" fill="#dfe0e6" stroke="#1c1c1c" stroke-width="0.9"/>
<line x1="790.96" x2="790.96" y1="131.1" y2="181.4" stroke="#222" stroke-width="1"/>
<rect x="788.61" y="144.0" width="4.7" height="30.0" fill="#dfe0e6" stroke="#1c1c1c" stroke-width="0.9"/>
<line x1="798.00" x2="798.00" y1="60.3" y2="151.4" stroke="#222" stroke-width="1"/>
<rect x="795.65" y="122.2" width="4.7" height="19.8" fill="#dfe0e6" stroke="#1c1c1c" stroke-width="0.9"/>
<line x1="805.04" x2="805.04" y1="91.8" y2="157.2" stroke="#222" stroke-width="1"/>
<rect x="802.24" y="121.8" width="5.6" height="21.8" fill="#000"/>
<line x1="812.08" x2="812.08" y1="115.6" y2="184.5" stroke="#222" stroke-width="1"/>
<rect x="809.28" y="143.8" width="5.6" height="39.8" fill="#000"/>
<line x1="819.12" x2="819.12" y1="168.6" y2="207.9" stroke="#222" stroke-width="1"/>
<rect x="816.32" y="183.0" width="5.6" height="22.0" fill="#000"/>
<line x1="826.16" x2="826.16" y1="184.7" y2="228.7" stroke="#222" stroke-width="1"/>
<rect x="823.36" y="205.0" width="5.6" height="11.2" fill="#000"/>
<line x1="833.20" x2="833.20" y1="162.4" y2="240.5" stroke="#222" stroke-width="1"/>
<rect x="830.85" y="181.8" width="4.7" height="33.1" fill="#dfe0e6" stroke="#1c1c1c" stroke-width="0.9"/>
<line x1="840.24" x2="840.24" y1="179.0" y2="267.5" stroke="#222" stroke-width="1"/>
<rect x="837.44" y="181.4" width="5.6" height="82.1" fill="#000"/>
<line x1="847.28" x2="847.28" y1="233.9" y2="279.3" stroke="#222" stroke-width="1"/>
<rect x="844.93" y="250.9" width="4.7" height="11.6" fill="#dfe0e6" stroke="#1c1c1c" stroke-width="0.9"/>
<line x1="854.32" x2="854.32" y1="242.2" y2="268.2" stroke="#222" stroke-width="1"/>
<rect x="851.52" y="250.0" width="5.6" height="4.5" fill="#000"/>
<line x1="861.36" x2="861.36" y1="240.5" y2="260.4" stroke="#222" stroke-width="1"/>
<rect x="858.56" y="254.0" width="5.6" height="2.9" fill="#000"/>
<line x1="868.40" x2="868.40" y1="244.1" y2="265.9" stroke="#222" stroke-width="1"/>
<rect x="865.60" y="256.9" width="5.6" height="5.9" fill="#000"/>
<line x1="875.44" x2="875.44" y1="259.5" y2="302.1" stroke="#222" stroke-width="1"/>
<rect x="872.64" y="263.0" width="5.6" height="36.7" fill="#000"/>
<line x1="882.48" x2="882.48" y1="296.2" y2="300.9" stroke="#222" stroke-width="1"/>
<rect x="879.68" y="298.0" width="5.6" height="1.2" fill="#000"/>
</g>
<rect x="3.2" y="16.3" width="1195.3" height="620.0" fill="none" stroke="#f1f2f5" stroke-width="1"/>
<line x1="1145.5" x2="1145.5" y1="16.3" y2="636.3" stroke="#f1f2f5" stroke-width="1"/>
<line x1="3.2" x2="1198.5" y1="615.3" y2="615.3" stroke="#f1f2f5" stroke-width="1"/>
<line x1="3.2" x2="1198.5" y1="461.2" y2="461.2" stroke="#dadeeb" stroke-width="1.2"/>
<line x1="3.2" x2="1198.5" y1="538.4" y2="538.4" stroke="#dadeeb" stroke-width="1.2"/>
<rect x="1148" y="19" width="47.7" height="19.5" rx="3" fill="#fff" stroke="#eceef2" stroke-width="1"/>
<g fill="#1a1a1a"><path d="M4.9 653.2H14V663.8H9.2V657H4.9Z"/><circle cx="17.1" cy="654.9" r="1.9"/><path d="M21.1 653.2H26.8L23.2 663.8H17.7Z"/></g>
</svg>
<div class="t" style="left:3.9px;top:2.2px;font-size:9.53px;">CryptoFXStreet created with TradingView.com, Jan 25, 2026 20:50 UTC-5</div>
<div class="t" style="left:9.6px;top:21.9px;font-size:9.25px;">Monero / Tether</div>
<div class="t" style="left:78.2px;top:21.9px;font-size:9.3px;">·</div>
<div class="t" style="left:84.4px;top:21.9px;font-size:8.6px;">1D</div>
<div class="t" style="left:96.8px;top:21.9px;font-size:9.3px;">·</div>
<div class="t" style="left:102.2px;top:21.9px;font-size:9.35px;">KuCoin</div>
<div class="t" style="left:137px;top:21.9px;font-size:9.33px;">O449.75</div>
<div class="t" style="left:178.4px;top:21.9px;font-size:9.76px;">H455.08</div>
<div class="t" style="left:220.6px;top:21.9px;font-size:9.54px;">L447.44</div>
<div class="t" style="left:260.1px;top:21.9px;font-size:9.23px;">C451.99</div>
<div class="t" style="left:300.7px;top:21.9px;font-size:9.39px;">+2.47 (+0.55%)</div>
<div class="t" style="left:9.6px;top:34.6px;font-size:9.46px;">EMA 20/50/100/200</div>
<div class="t" style="left:99.2px;top:34.6px;font-size:9.48px;color:#ff7f00;">485.45</div>
<div class="t" style="left:134.2px;top:34.6px;font-size:9.2px;color:#00ffff;">437.94</div>
<div class="t" style="left:168.6px;top:34.6px;font-size:9.3px;color:#0000ff;">383.74</div>
<div class="t" style="left:9.7px;top:467.8px;font-size:8.95px;">RSI (14, close)</div>
<div class="t" style="left:75px;top:467.8px;font-size:8.95px;color:#7e57c2;">41.45</div>
<div class="t" style="left:103.7px;top:467.8px;font-size:8.95px;color:#fdd835;">58.77</div>
<div class="t" style="left:9.5px;top:544.6px;font-size:9.27px;">MACD (close, 12, 26, 9)</div>
<div class="t" style="left:113.9px;top:544.6px;font-size:9.5px;color:#ff5252;">−20.80</div>
<div class="t" style="left:149px;top:544.6px;font-size:9.25px;color:#2962ff;">2.02</div>
<div class="t" style="left:172.7px;top:544.6px;font-size:9.47px;color:#ff6d00;">22.82</div>
<div class="t" style="left:1154.8px;top:22.6px;font-size:8.6px;">USDT</div>
<div class="t" style="left:51.6px;top:620.8px;font-size:9.3px;color:#2a2e39;-webkit-text-stroke:0;">Oct</div>
<div class="t" style="left:268.8px;top:620.8px;font-size:9.3px;color:#2a2e39;-webkit-text-stroke:0;">Nov</div>
<div class="t" style="left:479.9px;top:620.8px;font-size:9.4px;color:#2a2e39;-webkit-text-stroke:0;">Dec</div>
<div class="t" style="left:694.6px;top:620.8px;font-size:9.8px;color:#2a2e39;font-weight:bold;-webkit-text-stroke:0;letter-spacing:0.5px;">2026</div>
<div class="t" style="left:916.6px;top:620.8px;font-size:9.4px;color:#2a2e39;-webkit-text-stroke:0;">Feb</div>
<div class="t" style="left:1113.7px;top:620.8px;font-size:9.4px;color:#2a2e39;-webkit-text-stroke:0;">Mar</div>
<div class="t" style="left:32.9px;top:648.3px;font-size:15.3px;font-weight:bold;line-height:20px;height:20px;color:#1a1a1a">TradingView</div>
<div class="ax" style="top:81.8px;">760.00</div>
<div class="ax" style="top:109.1px;">720.00</div>
<div class="ax" style="top:136.4px;">680.00</div>
<div class="ax" style="top:163.7px;">640.00</div>
<div class="ax" style="top:191.0px;">600.00</div>
<div class="ax" style="top:218.3px;">560.00</div>
<div class="ax" style="top:245.6px;">520.00</div>
<div class="ax" style="top:272.9px;">480.00</div>
<div class="ax" style="top:354.8px;">360.00</div>
<div class="ax" style="top:382.1px;">320.00</div>
<div class="ax" style="top:409.4px;">280.00</div>
<div class="ax" style="top:436.7px;">240.00</div>
<div class="ax" style="top:477.3px;">75.00</div>
<div class="ax" style="top:503.9px;">50.00</div>
<div style="position:absolute;left:1146px;top:520px;width:52px;height:18.3px;overflow:hidden"><div class="ax" style="left:6px;top:10px">25.00</div></div>
<div class="ax" style="top:556.3px;">40.00</div>
<div class="lb" style="left:1119px;top:54.2px;width:26px;background:#e3effd;color:#131722;padding-left:3.6px;border-radius:2px 0 0 2px">High</div>
<div class="lb" style="top:54.2px;height:12.4px;line-height:12.4px;width:40.6px;background:#e3effd;color:#131722;border-radius:0 2px 2px 0">800.00</div>
<div class="lb" style="left:1122px;top:418.3px;width:23px;background:#e3effd;color:#131722;padding-left:3.6px;border-radius:2px 0 0 2px">Low</div>
<div class="lb" style="top:418.3px;height:12.4px;line-height:12.4px;width:40.6px;background:#e3effd;color:#131722;border-radius:0 2px 2px 0">266.35</div>
<div class="lb" style="top:222.6px;height:12.3px;line-height:12.3px;width:40.6px;background:#000;color:#fff;">553.16</div>
<div class="lb" style="top:256.2px;height:12.4px;line-height:12.4px;width:40.6px;background:#000;color:#fff;">498.83</div>
<div class="lb" style="top:268.6px;height:12.6px;line-height:12.6px;width:40.6px;background:#ff7f00;color:#fff;">485.45</div>
<div class="lb" style="top:292.2px;height:22.7px;width:48.6px;background:#d1d4dc;color:#131722;line-height:10.4px;padding-top:1px"><div>451.99</div><div style="color:#50535e">22:09:36</div></div>
<div class="lb" style="top:315.3px;height:12.1px;line-height:12.1px;width:40.6px;background:#000;color:#fff;">439.00</div>
<div class="lb" style="top:327.4px;height:12.8px;line-height:12.8px;width:40.6px;background:#00ffff;color:#131722;">437.94</div>
<div class="lb" style="top:340.2px;height:12.6px;line-height:12.6px;width:40.6px;background:#0000ff;color:#fff;">383.74</div>
<div class="lb" style="top:494.3px;height:11.9px;line-height:11.9px;width:35.4px;background:#fdd835;color:#131722;">58.77</div>
<div class="lb" style="top:512.8px;height:11.9px;line-height:11.9px;width:35.4px;background:#7e57c2;color:#fff;">41.45</div>
<div class="lb" style="top:569.6px;height:11.9px;line-height:11.9px;width:35.4px;background:#ff6d00;color:#fff;">22.82</div>
<div class="lb" style="top:585.2px;height:11.8px;line-height:11.8px;width:29.8px;background:#2962ff;color:#fff;">2.02</div>
<div class="lb" style="top:602.5px;height:12px;line-height:12px;width:40.8px;background:#ff5252;color:#fff;">−20.80</div>
</body></html>
